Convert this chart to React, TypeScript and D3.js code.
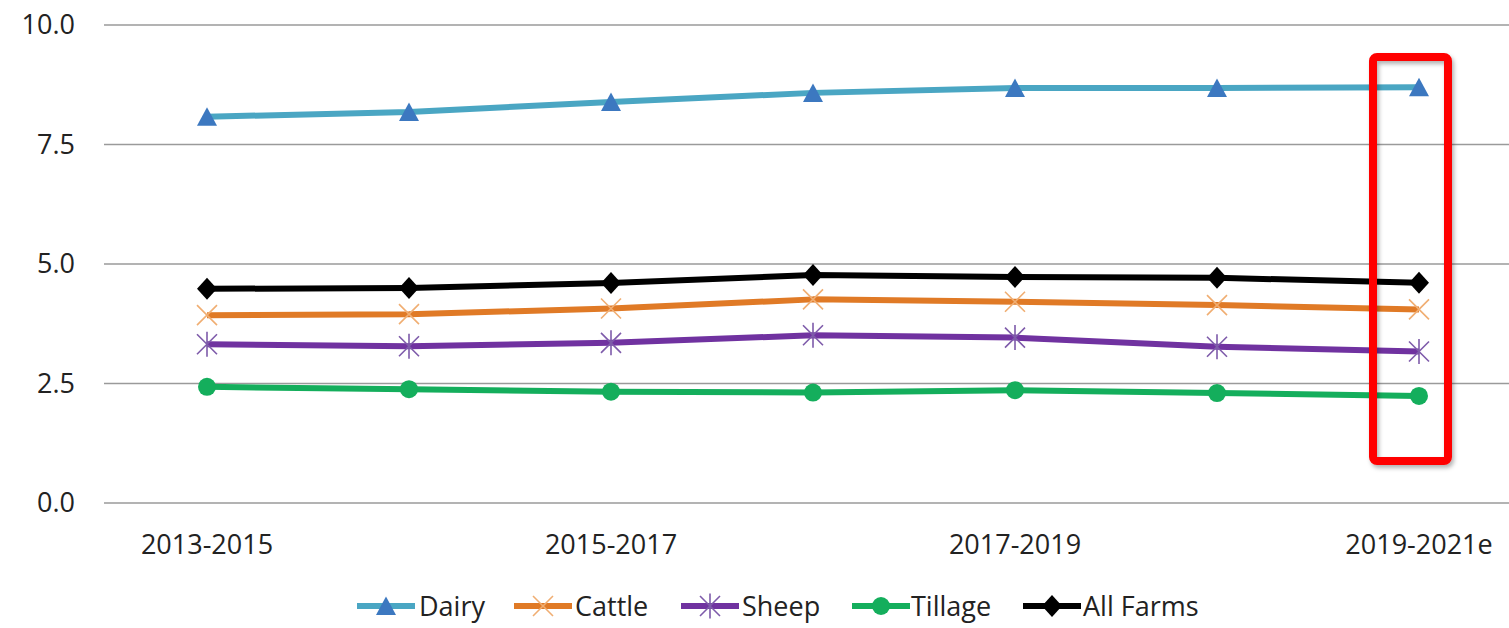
import React from "react";
import * as d3 from "d3";

// Three-year rolling averages by farm system
const categories = ["2013-2015", "2014-2016", "2015-2017", "2016-2018", "2017-2019", "2018-2020", "2019-2021e"];
const shownTicks = ["2013-2015", "2015-2017", "2017-2019", "2019-2021e"];
const yTicks = [0, 2.5, 5, 7.5, 10];

const dairy = [8.08, 8.18, 8.39, 8.58, 8.68, 8.68, 8.7];
const cattle = [3.93, 3.95, 4.07, 4.26, 4.21, 4.14, 4.05];
const sheep = [3.32, 3.28, 3.35, 3.51, 3.46, 3.27, 3.17];
const tillage = [2.43, 2.38, 2.33, 2.31, 2.36, 2.3, 2.24];
const allFarms = [4.48, 4.5, 4.6, 4.77, 4.73, 4.71, 4.61];

const highlighted = "2019-2021e";

type MarkerKind = "triangle" | "x" | "asterisk" | "circle" | "diamond";

const series: { name: string; values: number[]; line: string; marker: string; kind: MarkerKind }[] = [
  { name: "Dairy", values: dairy, line: "#4AA6C3", marker: "#3C78C0", kind: "triangle" },
  { name: "Cattle", values: cattle, line: "#E07A26", marker: "#F0AE72", kind: "x" },
  { name: "Sheep", values: sheep, line: "#7032A0", marker: "#7E5BAA", kind: "asterisk" },
  { name: "Tillage", values: tillage, line: "#14AE5C", marker: "#14AE5C", kind: "circle" },
  { name: "All Farms", values: allFarms, line: "#000000", marker: "#000000", kind: "diamond" },
];

const W = 1509;
const H = 628;
const FONT = "'Open Sans', sans-serif";

function Marker({ kind, color, x, y }: { kind: MarkerKind; color: string; x: number; y: number }) {
  const t = `translate(${x},${y})`;
  if (kind === "triangle") {
    return <path transform={t} d="M0,-9.5L10,9L-10,9Z" fill={color} />;
  }
  if (kind === "circle") {
    return <circle cx={x} cy={y} r={9} fill={color} />;
  }
  if (kind === "diamond") {
    return <path transform={t} d="M0,-11L10,0L0,11L-10,0Z" fill={color} />;
  }
  const s = 10;
  const strokes = ["M" + -s + "," + -s + "L" + s + "," + s, "M" + -s + "," + s + "L" + s + "," + -s];
  if (kind === "asterisk") strokes.push("M0," + -s * 1.25 + "L0," + s * 1.25);
  return <path transform={t} d={strokes.join("")} stroke={color} strokeWidth={1.6} fill="none" />;
}

export default function App() {
  const x = d3.scalePoint<string>().domain(categories).range([106, 1520]).padding(0.5);
  const y = d3.scaleLinear().domain([0, 10]).range([503, 25]);
  const line = d3
    .line<number>()
    .x((_, i) => x(categories[i])!)
    .y((v) => y(v));

  const legendItems = [
    { lineX: 357, textX: 419 },
    { lineX: 514, textX: 575 },
    { lineX: 681, textX: 742 },
    { lineX: 852, textX: 911 },
    { lineX: 1023, textX: 1083 },
  ];
  const legendY = 606;
  const hx = x(highlighted)!;

  return (
    <svg
      width={W}
      height={H}
      style={{ position: "absolute", left: 0, top: 0, background: "#fff" }}
      fontFamily={FONT}
    >
      <defs>
        <filter id="shadow" x="-20%" y="-5%" width="140%" height="110%">
          <feDropShadow dx="2" dy="3" stdDeviation="2" floodColor="#000" floodOpacity="0.3" />
        </filter>
      </defs>

      {/* horizontal gridlines and value labels */}
      {yTicks.map((t) => (
        <g key={t}>
          <line x1={104} x2={W} y1={y(t)} y2={y(t)} stroke="#9a9a9a" strokeWidth={1.5} />
          <text x={75} y={y(t)} dy="0.35em" textAnchor="end" fontSize={27} fill="#222">
            {d3.format(".1f")(t)}
          </text>
        </g>
      ))}

      {/* category labels */}
      {shownTicks.map((c) => (
        <text key={c} x={x(c)!} y={554} textAnchor="middle" fontSize={27} fill="#222">
          {c}
        </text>
      ))}

      {/* series lines with markers */}
      {series.map((s) => (
        <g key={s.name}>
          <path d={line(s.values)!} fill="none" stroke={s.line} strokeWidth={6} strokeLinejoin="round" />
          {s.values.map((v, i) => (
            <Marker key={i} kind={s.kind} color={s.marker} x={x(categories[i])!} y={y(v)} />
          ))}
        </g>
      ))}

      {/* highlight around the latest period */}
      <rect
        x={hx - 46}
        y={57}
        width={75}
        height={404}
        rx={4}
        fill="none"
        stroke="#FF0000"
        strokeWidth={8}
        filter="url(#shadow)"
      />

      {/* legend */}
      {series.map((s, i) => {
        const it = legendItems[i];
        return (
          <g key={s.name}>
            <line x1={it.lineX} x2={it.lineX + 58} y1={legendY} y2={legendY} stroke={s.line} strokeWidth={6} />
            <Marker kind={s.kind} color={s.marker} x={it.lineX + 29} y={legendY} />
            <text x={it.textX} y={legendY} dy="0.36em" fontSize={27} fill="#222">
              {s.name}
            </text>
          </g>
        );
      })}
    </svg>
  );
}
